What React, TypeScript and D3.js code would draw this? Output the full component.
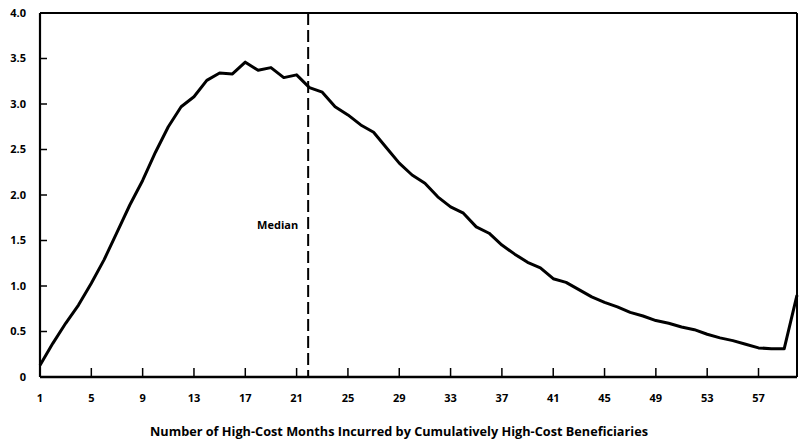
import React from "react";
import * as d3 from "d3";

const months: number[] = d3.range(1, 61);
const values: number[] = [
  0.13, 0.37, 0.59, 0.79, 1.03, 1.29, 1.59, 1.89, 2.16, 2.47,
  2.75, 2.97, 3.08, 3.26, 3.34, 3.33, 3.46, 3.37, 3.40, 3.29,
  3.32, 3.18, 3.13, 2.97, 2.88, 2.77, 2.69, 2.52, 2.35, 2.22,
  2.13, 1.98, 1.87, 1.80, 1.65, 1.58, 1.45, 1.35, 1.26, 1.20,
  1.08, 1.04, 0.96, 0.88, 0.82, 0.77, 0.71, 0.67, 0.62, 0.59,
  0.55, 0.52, 0.47, 0.43, 0.40, 0.36, 0.32, 0.31, 0.31, 0.90,
];
const xTicks: number[] = [1, 5, 9, 13, 17, 21, 25, 29, 33, 37, 41, 45, 49, 53, 57];
const yTicks: number[] = [0, 0.5, 1, 1.5, 2, 2.5, 3, 3.5, 4];
const yTickLabels: string[] = ["0", "0.5", "1.0", "1.5", "2.0", "2.5", "3.0", "3.5", "4.0"];
const medianMonth = 21.9;
const medianLabel = "Median";
const xTitle = "Number of High-Cost Months Incurred by Cumulatively High-Cost Beneficiaries";

const W = 800, H = 446;
const L = 40, R = 797, T = 13, B = 377;
const FONT = "'Open Sans', 'DejaVu Sans', sans-serif";

export default function App() {
  const x = d3.scaleLinear().domain([1, 60]).range([L, R]);
  const y = d3.scaleLinear().domain([0, 4]).range([B, T]);
  const line = d3.line<number>().x((_, i) => x(months[i])).y((d) => y(d));
  return (
    <svg width={W} height={H} style={{ position: "absolute", left: 0, top: 0, background: "#fff" }}>
      <rect x={0} y={0} width={W} height={H} fill="#fff" />
      {/* frame */}
      <line x1={L} x2={R} y1={T} y2={T} stroke="#000" strokeWidth={2} />
      <line x1={R} x2={R} y1={T} y2={B} stroke="#000" strokeWidth={2} />
      <line x1={L} x2={L} y1={T} y2={B} stroke="#000" strokeWidth={2.2} />
      <line x1={L} x2={R} y1={B} y2={B} stroke="#000" strokeWidth={2.4} />
      {/* y ticks */}
      {yTicks.map((t, i) => (
        <g key={"y" + i}>
          {t > 0 && t < 4 && <line x1={L} x2={L + 7} y1={y(t)} y2={y(t)} stroke="#000" strokeWidth={1.5} />}
          <text x={26} y={y(t)} dy="0.35em" textAnchor="end" fontFamily={FONT} fontWeight={700} fontSize={11}>
            {yTickLabels[i]}
          </text>
        </g>
      ))}
      {/* x ticks */}
      {xTicks.map((t) => (
        <g key={"x" + t}>
          {t > 1 && <line x1={x(t)} x2={x(t)} y1={B} y2={B - 9} stroke="#000" strokeWidth={1.5} />}
          <text x={x(t)} y={398} dy="0.35em" textAnchor="middle" fontFamily={FONT} fontWeight={700} fontSize={11}>
            {t}
          </text>
        </g>
      ))}
      {/* median */}
      <line x1={x(medianMonth)} x2={x(medianMonth)} y1={T} y2={B} stroke="#000" strokeWidth={2} strokeDasharray="12,5" />
      <text x={x(medianMonth) - 10} y={225} dy="0.35em" textAnchor="end" fontFamily={FONT} fontWeight={700} fontSize={11}>
        {medianLabel}
      </text>
      {/* data line */}
      <path d={line(values) || ""} fill="none" stroke="#000" strokeWidth={3} strokeLinejoin="round" />
      {/* title */}
      <text x={399} y={432} dy="0.35em" textAnchor="middle" fontFamily={FONT} fontWeight={700} fontSize={11.5} textLength={498} lengthAdjust="spacingAndGlyphs">
        {xTitle}
      </text>
    </svg>
  );
}
